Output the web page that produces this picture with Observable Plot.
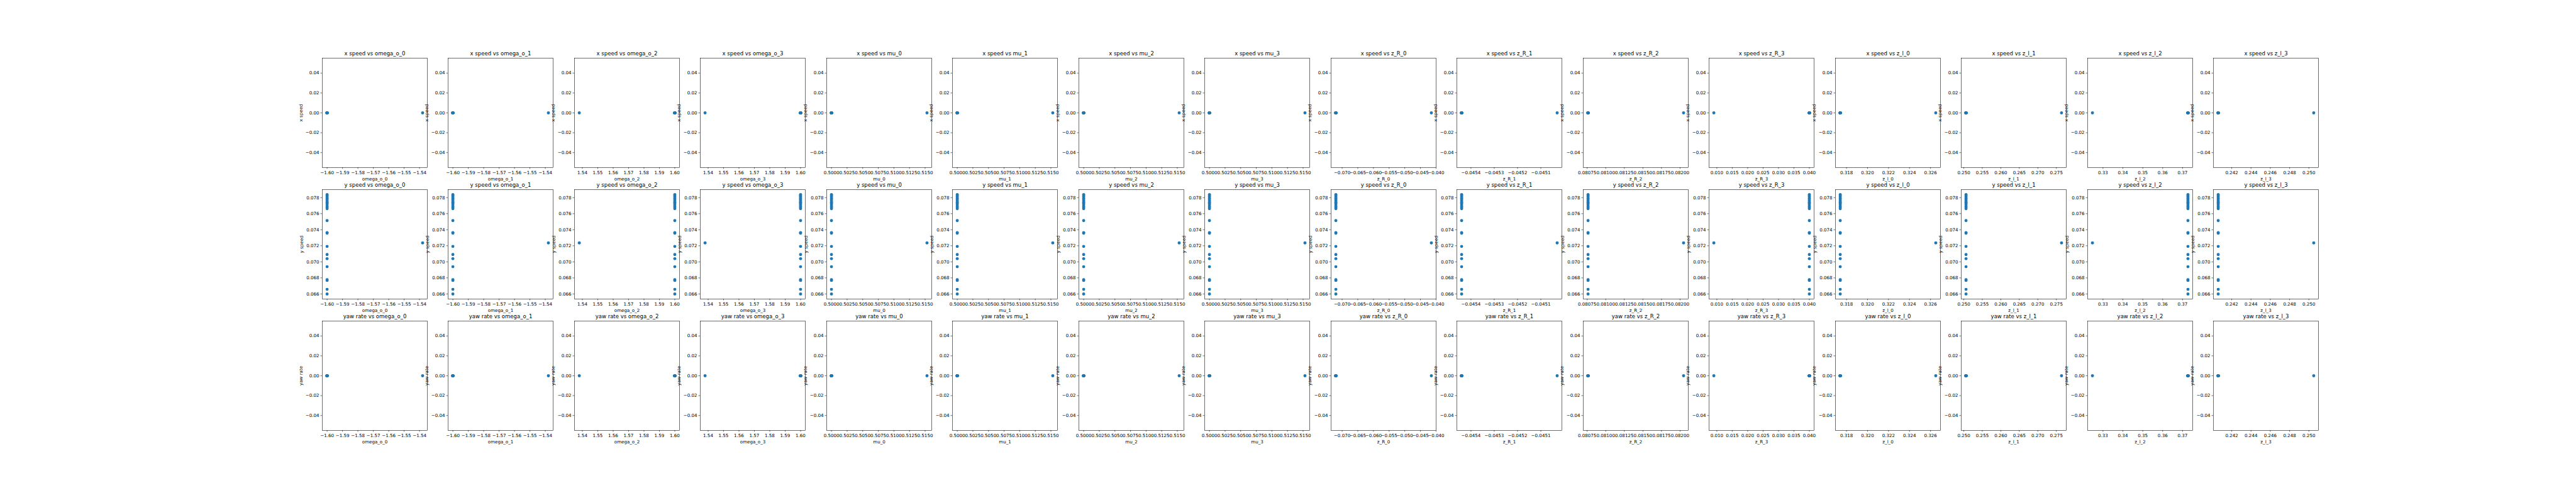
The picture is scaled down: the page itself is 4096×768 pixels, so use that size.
<!DOCTYPE html>
<html>
<head>
<meta charset="utf-8">
<script src="https://cdn.jsdelivr.net/npm/d3@7"></script>
<script src="https://cdn.jsdelivr.net/npm/@observablehq/plot@0.6"></script>
<style>
  html, body { margin: 0; padding: 0; background: #fff; }
  #fig { position: relative; width: 4096px; height: 768px; background: #fff; overflow: hidden; font-family: "DejaVu Sans", sans-serif; }
  #fig svg { position: absolute; overflow: visible; background: none; max-width: none; }
</style>
</head>
<body>
<div id="fig"></div>
<script>
// ---------------- data ----------------
const params = ["omega_o_0", "omega_o_1", "omega_o_2", "omega_o_3",
                "mu_0", "mu_1", "mu_2", "mu_3",
                "z_R_0", "z_R_1", "z_R_2", "z_R_3",
                "z_l_0", "z_l_1", "z_l_2", "z_l_3"];
const outputs = ["x speed", "y speed", "yaw rate"];

// parameter value shared by the main group of runs (one per column)
const clusterValue = [-1.600, -1.600, 1.600, 1.600,
                      0.5000, 0.5000, 0.5000, 0.5000,
                      -0.0720, -0.04544, 0.080762, 0.0400,
                      0.3174, 0.2506, 0.3727, 0.2406];
// parameter value of the single differing run (one per column)
const outlierValue = [-1.538, -1.538, 1.538, 1.538,
                      0.5153, 0.5153, 0.5153, 0.5153,
                      -0.0415, -0.04503, 0.082047, 0.00902,
                      0.3265, 0.2764, 0.3247, 0.2505];

// outputs per run (last run is the differing one)
const xSpeed  = [0, 0, 0, 0, 0, 0, 0, 0, 0, 0, 0, 0, 0, 0, 0, 0, 0, 0, 0, 0, 0, 0, 0, 0, 0];
const ySpeed  = [0.07838, 0.07827, 0.07813, 0.07797, 0.07784, 0.07766, 0.07749, 0.07737,
                 0.07726, 0.07709, 0.07693, 0.07679, 0.07662, 0.07514, 0.07364, 0.07357,
                 0.07192, 0.07091, 0.07039, 0.06939, 0.06778, 0.06768, 0.06657, 0.06599,
                 0.07236];
const yawRate = [0, 0, 0, 0, 0, 0, 0, 0, 0, 0, 0, 0, 0, 0, 0, 0, 0, 0, 0, 0, 0, 0, 0, 0, 0];
const outlierRun = 24;

// tick values and decimals per column
const xTicks = [
  [-1.60, -1.59, -1.58, -1.57, -1.56, -1.55, -1.54],
  [-1.60, -1.59, -1.58, -1.57, -1.56, -1.55, -1.54],
  [1.54, 1.55, 1.56, 1.57, 1.58, 1.59, 1.60],
  [1.54, 1.55, 1.56, 1.57, 1.58, 1.59, 1.60],
  [0.5000, 0.5025, 0.5050, 0.5075, 0.5100, 0.5125, 0.5150],
  [0.5000, 0.5025, 0.5050, 0.5075, 0.5100, 0.5125, 0.5150],
  [0.5000, 0.5025, 0.5050, 0.5075, 0.5100, 0.5125, 0.5150],
  [0.5000, 0.5025, 0.5050, 0.5075, 0.5100, 0.5125, 0.5150],
  [-0.070, -0.065, -0.060, -0.055, -0.050, -0.045, -0.040],
  [-0.0454, -0.0453, -0.0452, -0.0451],
  [0.08075, 0.08100, 0.08125, 0.08150, 0.08175, 0.08200],
  [0.010, 0.015, 0.020, 0.025, 0.030, 0.035, 0.040],
  [0.318, 0.320, 0.322, 0.324, 0.326],
  [0.250, 0.255, 0.260, 0.265, 0.270, 0.275],
  [0.33, 0.34, 0.35, 0.36, 0.37],
  [0.242, 0.244, 0.246, 0.248, 0.250]
];
const xDecimals = [2, 2, 2, 2, 4, 4, 4, 4, 3, 4, 5, 3, 3, 3, 2, 3];
const yTicks = [
  [-0.04, -0.02, 0.00, 0.02, 0.04],
  [0.066, 0.068, 0.070, 0.072, 0.074, 0.076, 0.078],
  [-0.04, -0.02, 0.00, 0.02, 0.04]
];
const yDecimals = [2, 3, 2];

// ---------------- layout (matplotlib defaults, scaled) ----------------
const S = 0.512;
const FIG_W = 8000 * S, FIG_H = 1500 * S;
const LEFT = 0.125, RIGHT = 0.9, BOTTOM = 0.11, TOP = 0.88, WSPACE = 0.2, HSPACE = 0.2;
const NROW = 3, NCOL = 16;
const axW = FIG_W * (RIGHT - LEFT) / (NCOL + (NCOL - 1) * WSPACE);
const axH = FIG_H * (TOP - BOTTOM) / (NROW + (NROW - 1) * HSPACE);
const axLeft = c => FIG_W * LEFT + c * axW * (1 + WSPACE);
const axTop = r => FIG_H * (1 - TOP) + r * axH * (1 + HSPACE);

const PT = 100 / 72 * S;            // one point in px
const tickFont = 10 * PT, titleFont = 12 * PT;
const tickLen = 3.5 * PT, tickPad = 3.5 * PT, lw = 0.8 * PT;
const dotR = 4.75 * S;
const yLabelOffset = [34.2, 32.9, 34.2];
const ML = 48, MR = 14, MT = 16, MB = 28;

const series = [xSpeed, ySpeed, yawRate];
const fmt = d => v => v.toFixed(d).replace("-", "\u2212");

function autoDomain(values) {
  let [lo, hi] = d3.extent(values);
  if (lo === hi) { const e = lo === 0 ? 0.05 : Math.abs(lo) * 0.05; lo -= e; hi += e; }
  const m = (hi - lo) * 0.05;
  return [lo - m, hi + m];
}

const fig = document.getElementById("fig");
for (let r = 0; r < NROW; r++) {
  for (let c = 0; c < NCOL; c++) {
    const data = series[r].map((v, i) => ({
      x: i === outlierRun ? outlierValue[c] : clusterValue[c],
      y: v
    }));
    const svg = Plot.plot({
      width: ML + axW + MR,
      height: MT + axH + MB,
      marginLeft: ML, marginRight: MR, marginTop: MT, marginBottom: MB,
      x: {domain: autoDomain(data.map(d => d.x)), label: null},
      y: {domain: autoDomain(data.map(d => d.y)), label: null},
      style: {background: "none", overflow: "visible", fontFamily: "DejaVu Sans", fontSize: tickFont + "px", color: "black"},
      marks: [
        Plot.dot(data, {x: "x", y: "y", r: dotR, fill: "#1f77b4", stroke: null}),
        Plot.frame({stroke: "black", strokeWidth: lw}),
        Plot.axisX({ticks: xTicks[c], tickFormat: fmt(xDecimals[c]), tickSize: tickLen, tickPadding: tickPad + 0.35,
                    fontSize: tickFont, strokeWidth: lw, label: null}),
        Plot.axisY({ticks: yTicks[r], tickFormat: fmt(yDecimals[r]), tickSize: tickLen, tickPadding: tickPad,
                    fontSize: tickFont, strokeWidth: lw, label: null}),
        Plot.text([`${outputs[r]} vs ${params[c]}`], {text: d => d, frameAnchor: "top", lineAnchor: "bottom",
                    dy: -8.2 * S, fontSize: titleFont, fill: "black"}),
        Plot.text([params[c]], {text: d => d, frameAnchor: "bottom", lineAnchor: "bottom",
                    dy: 39.4 * S, fontSize: tickFont, fill: "black"}),
        Plot.text([outputs[r]], {text: d => d, frameAnchor: "left", rotate: -90, dx: -yLabelOffset[r],
                    textAnchor: "middle", lineAnchor: "middle", fontSize: tickFont, fill: "black"})
      ]
    });
    svg.style.position = "absolute";
    svg.style.left = (axLeft(c) - ML) + "px";
    svg.style.top = (axTop(r) - MT) + "px";
    svg.style.maxWidth = "none";
    svg.style.overflow = "visible";
    svg.style.background = "none";
    fig.appendChild(svg);
  }
}
</script>
</body>
</html>
